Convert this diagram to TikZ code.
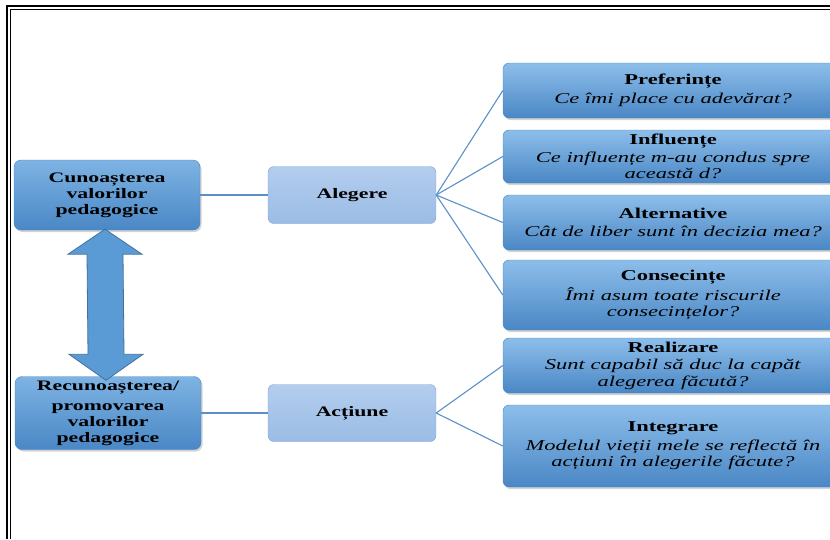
\documentclass[tikz,border=0pt]{standalone}
\usepackage{fontspec}
\setmainfont{Liberation Serif}[FakeStretch=1.5]
\usepackage{tikz}
\usetikzlibrary{positioning,shadows,calc}
\usepackage{xcolor}
\definecolor{boxblue}{HTML}{5B9BD5}
\definecolor{boxtop}{HTML}{8DBEEA}
\definecolor{boxbot}{HTML}{4A87C5}
\definecolor{midtop}{HTML}{B3CDEE}
\definecolor{midbot}{HTML}{9BBCE5}
\definecolor{midline}{HTML}{7AA3D5}
\definecolor{linkblue}{HTML}{5C8FC8}
\definecolor{arrowedge}{HTML}{41719C}

\tikzset{
  valuebox/.style={rectangle, rounded corners=7pt, top color=boxtop!70!boxblue, bottom color=boxbot,
    draw=boxbot, inner sep=0pt, minimum width=186pt, align=center,
    font=\fontsize{14.5pt}{16pt}\selectfont\bfseries,
    drop shadow={shadow xshift=1.5pt, shadow yshift=-2pt, opacity=0.35}},
  stagebox/.style={rectangle, rounded corners=6pt, top color=midtop, bottom color=midbot,
    draw=midline, inner sep=0pt, minimum width=168pt, minimum height=57pt,
    font=\fontsize{14.5pt}{16pt}\selectfont\bfseries},
  questbox/.style={rectangle, rounded corners=6pt, top color=boxtop, middle color=boxblue, bottom color=boxbot,
    draw=boxbot, inner sep=0pt, minimum width=340pt, align=center,
    font=\fontsize{15pt}{16.5pt}\selectfont,
    drop shadow={shadow xshift=1.5pt, shadow yshift=-2pt, opacity=0.35}},
  link/.style={draw=linkblue, line width=1.1pt},
  bigarrow/.style={fill=boxblue, draw=arrowedge, line width=0.8pt, line join=miter}
}

\begin{document}
\begin{tikzpicture}[x=1pt, y=-1pt]
    \useasboundingbox (0,0) rectangle (830,539);
    \draw[line width=1.6pt] (7,539) -- (7,6) -- (830,6);
    \draw[line width=0.7pt] (10,539) -- (10,9) -- (830,9);

    \node[valuebox, minimum height=70pt] (cunoastere) at (107,195) {Cunoașterea\\valorilor\\pedagogice};
    \node[valuebox, minimum height=73pt] (recunoastere) at (108,413) {Recunoașterea/\\[4pt]promovarea\\valorilor\\pedagogice};

    \node[stagebox] (alegere) at (352,195) {Alegere};
    \node[stagebox] (actiune) at (352,413) {Acțiune};

    \node[questbox, minimum height=55pt] (preferinte) at (673,90.5) {\textbf{Preferințe}\\[2pt]\textit{Ce îmi place cu adevărat?}};
    \node[questbox, minimum height=53pt] (influente) at (673,156.5) {\textbf{Influențe}\\[1pt]\textit{Ce influențe m-au condus spre}\\\textit{această d?}};
    \node[questbox, minimum height=55pt] (alternative) at (673,222.5) {\textbf{Alternative}\\[2pt]\textit{Cât de liber sunt în decizia mea?}};
    \node[questbox, minimum height=70pt] (consecinte) at (673,295) {\textbf{Consecințe}\\[2pt]\textit{Îmi asum toate riscurile}\\\textit{consecințelor?}};
    \node[questbox, minimum height=55pt] (realizare) at (673,365.5) {\textbf{Realizare}\\[1pt]\textit{Sunt capabil să duc la capăt}\\\textit{alegerea făcută?}};
    \node[questbox, minimum height=82pt] (integrare) at (673,446) {\textbf{Integrare}\\[2pt]\textit{Modelul vieții mele se reflectă în}\\\textit{acțiuni în alegerile făcute?}};

    \draw[link] (cunoastere) -- (alegere);
    \draw[link] (recunoastere) -- (actiune);
    \draw[link] (alegere.east) -- (preferinte.west);
    \draw[link] (alegere.east) -- (influente.west);
    \draw[link] (alegere.east) -- (alternative.west);
    \draw[link] (alegere.east) -- (consecinte.west);
    \draw[link] (actiune.east) -- (realizare.west);
    \draw[link] (actiune.east) -- (integrare.west);

    \draw[bigarrow] ($(cunoastere.south)+(-2,-1)$) -- ++(37,25) -- ++(-19,0)
      -- ($(recunoastere.north)+(16,-22)$) -- ++(19,0) -- ++(-37,26) -- ++(-37,-26) -- ++(19,0)
      -- ($(cunoastere.south)+(-20,24)$) -- ++(-19,0) -- cycle;
\end{tikzpicture}
\end{document}
